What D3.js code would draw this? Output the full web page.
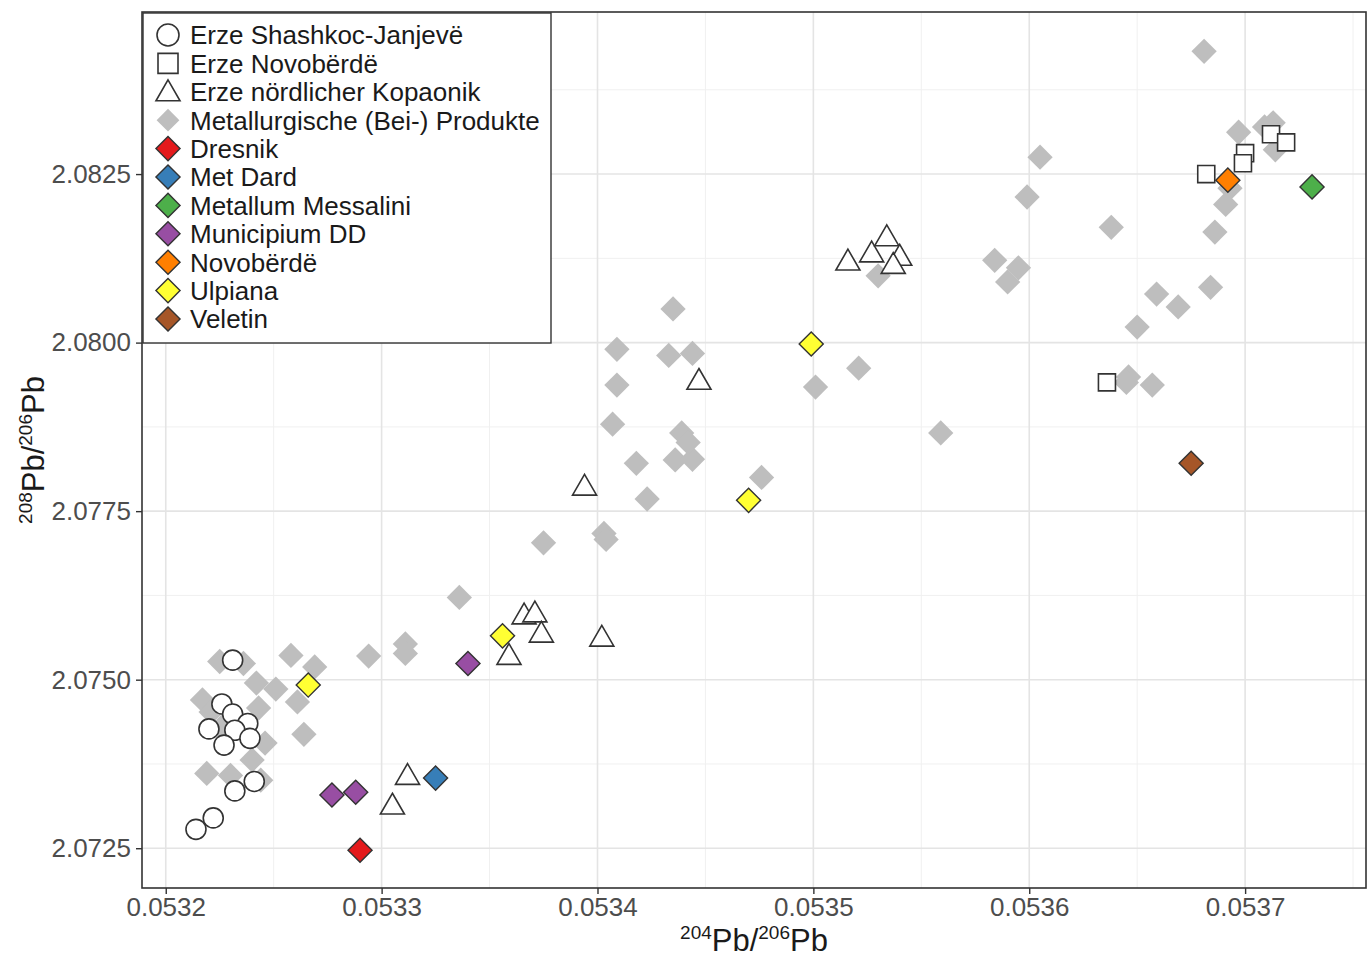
<!DOCTYPE html>
<html>
<head>
<meta charset="utf-8">
<script src="https://cdn.jsdelivr.net/npm/d3@7"></script>
<style>
body{margin:0;background:#fff}
text{font-family:"Liberation Sans",Arial,Helvetica,sans-serif}
</style>
</head>
<body>
<div id="chart"></div>
<script>
// ores - open symbols
var shashX = [0.053231,0.053226,0.053231,0.053238,0.053220,0.053232,0.053239,0.053227,0.053241,0.053232,0.053222,0.053214];
var shashY = [2.07529,2.07464,2.07449,2.07435,2.07427,2.07425,2.07413,2.07403,2.07349,2.07335,2.07295,2.07278];
var novoOreX = [0.053712,0.053719,0.053700,0.053699,0.053682,0.053636];
var novoOreY = [2.08309,2.08297,2.08281,2.08266,2.08250,2.07941];
var kopX = [0.053516,0.053527,0.053534,0.053540,0.053537,0.053447,0.053394,0.053366,0.053371,0.053374,0.053359,0.053402,0.053312,0.053305];
var kopY = [2.08118,2.08130,2.08154,2.08125,2.08113,2.07941,2.07784,2.07593,2.07596,2.07566,2.07533,2.07560,2.07355,2.07311];

// metallurgical products (grey)
var grayX = [0.053225,0.053236,0.053258,0.053269,0.053242,0.053251,0.053217,0.053243,0.053261,0.053264,0.053246,0.053240,0.053219,0.053230,0.053244,0.053221,0.053226,
  0.053294,0.053311,0.053311,0.053336,0.053375,0.053403,0.053404,0.053423,0.053418,0.053436,0.053444,0.053439,0.053442,0.053407,0.053409,0.053409,0.053433,0.053444,0.053435,
  0.053476,0.053501,0.053521,0.053530,0.053559,0.053584,0.053595,0.053590,0.053599,0.053605,0.053638,0.053686,0.053659,0.053669,0.053684,0.053650,0.053646,0.053645,0.053657,
  0.053681,0.053697,0.053709,0.053713,0.053714,0.053693,0.053691];
var grayY = [2.07527,2.07524,2.07536,2.07519,2.07495,2.07486,2.07470,2.07458,2.07467,2.07419,2.07406,2.07381,2.07361,2.07358,2.07351,2.07452,2.07430,
  2.07535,2.07553,2.07539,2.07622,2.07703,2.07717,2.07708,2.07768,2.07821,2.07826,2.07827,2.07866,2.07852,2.07879,2.07937,2.07990,2.07981,2.07984,2.08050,
  2.07800,2.07934,2.07962,2.08099,2.07866,2.08122,2.08111,2.08090,2.08216,2.08275,2.08171,2.08164,2.08072,2.08053,2.08082,2.08023,2.07949,2.07941,2.07937,
  2.08432,2.08312,2.08320,2.08326,2.08286,2.08229,2.08205];

// sites (coloured diamonds)
var sites = ["Dresnik","Met Dard","Metallum Messalini","Municipium DD","Novobërdë","Ulpiana","Veletin"];
var siteColors = ["#e41a1c","#377eb8","#4daf4a","#984ea3","#ff7f00","#ffff33","#a65628"];
var siteX = [[0.053290],[0.053325],[0.053731],[0.053340,0.053277,0.053288],[0.053692],[0.053266,0.053356,0.053470,0.053499],[0.053675]];
var siteY = [[2.07247],[2.07354],[2.08231],[2.07524,2.07329,2.07333],[2.08241],[2.07492,2.07565,2.07766,2.07998],[2.07821]];

var legendLabels = ["Erze Shashkoc-Janjevë","Erze Novobërdë","Erze nördlicher Kopaonik","Metallurgische (Bei-) Produkte"].concat(sites);
var xTicks = [0.0532,0.0533,0.0534,0.0535,0.0536,0.0537];
var yTicks = [2.0725,2.0750,2.0775,2.0800,2.0825];

var w = 1371, h = 960;
var panel = {left:142, right:1366, top:12, bottom:888};

var x = d3.scaleLinear().domain([0.053189,0.053756]).range([panel.left,panel.right]);
var y = d3.scaleLinear().domain([2.07191,2.084904]).range([panel.bottom,panel.top]);

var svg = d3.select("#chart").append("svg")
  .attr("width", w)
  .attr("height", h);

// grid
var xMinor = d3.range(0,6).map(function(i){return 0.05325+i*0.0001;});
var yMinor = d3.range(0,5).map(function(i){return 2.07375+i*0.0025;});
var grid = svg.append("g");
grid.selectAll(".xm").data(xMinor).enter().append("line")
  .attr("x1",function(d){return x(d)}).attr("x2",function(d){return x(d)})
  .attr("y1",panel.top).attr("y2",panel.bottom)
  .attr("stroke","#f0f0f0").attr("stroke-width",1);
grid.selectAll(".ym").data(yMinor).enter().append("line")
  .attr("y1",function(d){return y(d)}).attr("y2",function(d){return y(d)})
  .attr("x1",panel.left).attr("x2",panel.right)
  .attr("stroke","#f0f0f0").attr("stroke-width",1);
grid.selectAll(".xg").data(xTicks).enter().append("line")
  .attr("x1",function(d){return x(d)}).attr("x2",function(d){return x(d)})
  .attr("y1",panel.top).attr("y2",panel.bottom)
  .attr("stroke","#e4e4e4").attr("stroke-width",1.6);
grid.selectAll(".yg").data(yTicks).enter().append("line")
  .attr("y1",function(d){return y(d)}).attr("y2",function(d){return y(d)})
  .attr("x1",panel.left).attr("x2",panel.right)
  .attr("stroke","#e4e4e4").attr("stroke-width",1.6);

var diamond = function(size){ return d3.symbol().type(d3.symbolSquare).size(size)(); };
var tri = d3.symbol().type(d3.symbolTriangle).size(250)();
var sq = d3.symbol().type(d3.symbolSquare).size(290)();

function pts(xs, ys){ return xs.map(function(v,i){return [v, ys[i]];}); }

// grey products
svg.append("g").selectAll("path").data(pts(grayX,grayY)).enter().append("path")
  .attr("d", diamond(320))
  .attr("transform", function(d){return "translate("+x(d[0])+","+y(d[1])+") rotate(45)";})
  .attr("fill","#bebebe");

// ores
svg.append("g").selectAll("circle").data(pts(shashX,shashY)).enter().append("circle")
  .attr("cx",function(d){return x(d[0])}).attr("cy",function(d){return y(d[1])})
  .attr("r",10).attr("fill","#fff").attr("stroke","#333").attr("stroke-width",1.6);
svg.append("g").selectAll("path").data(pts(novoOreX,novoOreY)).enter().append("path")
  .attr("d", sq)
  .attr("transform", function(d){return "translate("+x(d[0])+","+y(d[1])+")";})
  .attr("fill","#fff").attr("stroke","#333").attr("stroke-width",1.6);
svg.append("g").selectAll("path").data(pts(kopX,kopY)).enter().append("path")
  .attr("d", tri)
  .attr("transform", function(d){return "translate("+x(d[0])+","+y(d[1])+")";})
  .attr("fill","#fff").attr("stroke","#333").attr("stroke-width",1.6);

// sites
sites.forEach(function(s, k){
  svg.append("g").selectAll("path").data(pts(siteX[k],siteY[k])).enter().append("path")
    .attr("d", diamond(290))
    .attr("transform", function(d){return "translate("+x(d[0])+","+y(d[1])+") rotate(45)";})
    .attr("fill", siteColors[k]).attr("stroke","#333").attr("stroke-width",1.4);
});

// axes
var xAxis = d3.axisBottom(x).tickValues(xTicks).tickFormat(d3.format(".4f")).tickSize(6).tickPadding(4);
var yAxis = d3.axisLeft(y).tickValues(yTicks).tickFormat(d3.format(".4f")).tickSize(6).tickPadding(5);
var gx = svg.append("g").attr("transform","translate(0,"+panel.bottom+")").call(xAxis);
var gy = svg.append("g").attr("transform","translate("+panel.left+",0)").call(yAxis);
[gx,gy].forEach(function(g){
  g.select(".domain").remove();
  g.selectAll(".tick line").attr("stroke","#333").attr("stroke-width",1.4);
  g.selectAll(".tick text").attr("fill","#4d4d4d").style("font-size","26px")
    .style("font-family","'Liberation Sans',Arial,sans-serif");
});

// panel border
svg.append("rect")
  .attr("x",panel.left).attr("y",panel.top)
  .attr("width",panel.right-panel.left).attr("height",panel.bottom-panel.top)
  .attr("fill","none").attr("stroke","#333").attr("stroke-width",1.6);

// axis titles
var xt = svg.append("text").attr("x",(panel.left+panel.right)/2).attr("y",951)
  .attr("text-anchor","middle").attr("fill","#1a1a1a");
xt.append("tspan").attr("font-size",19).attr("dy",-12).text("204");
xt.append("tspan").attr("font-size",31).attr("dy",12).text("Pb/");
xt.append("tspan").attr("font-size",19).attr("dy",-12).text("206");
xt.append("tspan").attr("font-size",31).attr("dy",12).text("Pb");

var yt = svg.append("text").attr("transform","translate(44,"+((panel.top+panel.bottom)/2)+") rotate(-90)")
  .attr("text-anchor","middle").attr("fill","#1a1a1a");
yt.append("tspan").attr("font-size",19).attr("dy",-12).text("208");
yt.append("tspan").attr("font-size",31).attr("dy",12).text("Pb/");
yt.append("tspan").attr("font-size",19).attr("dy",-12).text("206");
yt.append("tspan").attr("font-size",31).attr("dy",12).text("Pb");

// legend
var lg = svg.append("g");
lg.append("rect").attr("x",panel.left+1).attr("y",panel.top+1).attr("width",408).attr("height",330)
  .attr("fill","#fff").attr("stroke","#333").attr("stroke-width",1.4);
var ly = function(i){ return 35 + i*28.4; };
var lx = 168;
lg.append("circle").attr("cx",lx).attr("cy",ly(0)).attr("r",11)
  .attr("fill","#fff").attr("stroke","#333").attr("stroke-width",1.6);
lg.append("path").attr("d",d3.symbol().type(d3.symbolSquare).size(400)())
  .attr("transform","translate("+lx+","+ly(1)+")")
  .attr("fill","#fff").attr("stroke","#333").attr("stroke-width",1.6);
lg.append("path").attr("d",tri)
  .attr("transform","translate("+lx+","+(ly(2)+2)+")")
  .attr("fill","#fff").attr("stroke","#333").attr("stroke-width",1.6);
lg.append("path").attr("d",diamond(260))
  .attr("transform","translate("+lx+","+ly(3)+") rotate(45)")
  .attr("fill","#bebebe");
sites.forEach(function(s,k){
  lg.append("path").attr("d",diamond(290))
    .attr("transform","translate("+lx+","+ly(k+4)+") rotate(45)")
    .attr("fill",siteColors[k]).attr("stroke","#333").attr("stroke-width",1.4);
});
lg.selectAll("text.lab").data(legendLabels).enter().append("text")
  .attr("x",190).attr("y",function(d,i){return ly(i);})
  .attr("dy","0.36em").attr("font-size",26).attr("fill","#1a1a1a")
  .text(function(d){return d;});
</script>
</body>
</html>
